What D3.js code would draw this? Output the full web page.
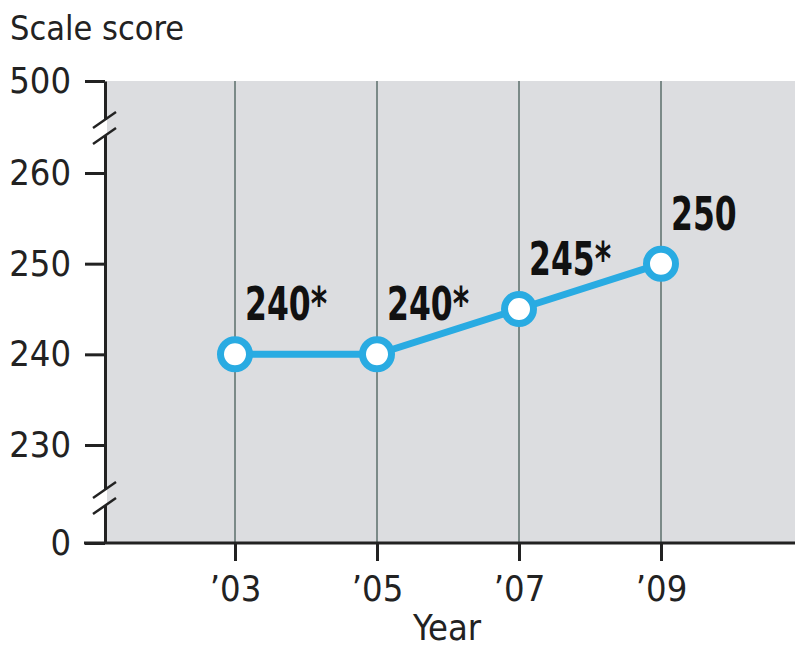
<!DOCTYPE html>
<html>
<head>
<meta charset="utf-8">
<script src="https://cdn.jsdelivr.net/npm/d3@7"></script>
<style>
  body { margin: 0; background: #fff; }
  text { font-family: "Liberation Sans Narrow", "DejaVu Sans Condensed", sans-serif; }
</style>
</head>
<body>
<div id="chart"></div>
<script>
var years = [2003, 2005, 2007, 2009];
var yearLabels = ["\u201903", "\u201905", "\u201907", "\u201909"];
var scores = [240, 240, 245, 250];
var scoreLabels = ["240*", "240*", "245*", "250"];
var yTicks = [0, 230, 240, 250, 260, 500];

var width = 795, height = 649;
var plotLeft = 105, plotRight = 795, plotTop = 81, plotBottom = 543;
var blue = "#29abe2";

var svg = d3.select("#chart").append("svg")
    .attr("width", width)
    .attr("height", height);

// broken y scale: 0 .. 230 | 230 .. 260 | 260 .. 500
var y = d3.scaleLinear()
    .domain([0, 230, 260, 500])
    .range([plotBottom, 445, 173, plotTop]);

var x = d3.scaleLinear()
    .domain([2003, 2009])
    .range([235, 661]);

// background
svg.append("rect")
    .attr("x", plotLeft)
    .attr("y", plotTop)
    .attr("width", plotRight - plotLeft)
    .attr("height", plotBottom - plotTop)
    .attr("fill", "#dcdde0");

// vertical grid
svg.selectAll(".grid")
    .data(years)
    .enter()
    .append("line")
    .attr("x1", function(d) { return x(d) })
    .attr("x2", function(d) { return x(d) })
    .attr("y1", plotTop)
    .attr("y2", plotBottom)
    .attr("stroke", "#7b8a88")
    .attr("stroke-width", 2);

// y axis
var yAxis = svg.append("g")
    .attr("transform", "translate(" + plotLeft + ",0)")
    .call(d3.axisLeft(y).tickValues(yTicks).tickSize(20).tickPadding(14).tickSizeOuter(0));
yAxis.select(".domain").attr("stroke", "#222").attr("stroke-width", 3);
yAxis.selectAll(".tick line").attr("stroke", "#222").attr("stroke-width", 3);
yAxis.selectAll(".tick text")
    .attr("font-size", 36)
    .attr("fill", "#222")
    .style("font-family", "'Liberation Sans Narrow', 'DejaVu Sans Condensed', sans-serif");

// axis breaks
var breaks = [128, 498];
breaks.forEach(function(b) {
    svg.append("rect")
        .attr("x", plotLeft - 4)
        .attr("y", b - 8)
        .attr("width", 6)
        .attr("height", 16)
        .attr("fill", "#fff");
    [-8, 8].forEach(function(o) {
        svg.append("line")
            .attr("x1", plotLeft - 12)
            .attr("y1", b + o + 8)
            .attr("x2", plotLeft + 11)
            .attr("y2", b + o - 8)
            .attr("stroke", "#222")
            .attr("stroke-width", 2.5);
    });
});

// x axis
var xAxis = svg.append("g")
    .attr("transform", "translate(0," + plotBottom + ")")
    .call(d3.axisBottom(x).tickValues(years)
        .tickFormat(function(d, i) { return yearLabels[i] })
        .tickSize(18).tickPadding(14).tickSizeOuter(0));
xAxis.select(".domain").remove();
xAxis.append("line")
    .attr("x1", 84).attr("x2", plotRight)
    .attr("y1", 0).attr("y2", 0)
    .attr("stroke", "#222").attr("stroke-width", 3);
xAxis.selectAll(".tick line").attr("stroke", "#222").attr("stroke-width", 3);
xAxis.selectAll(".tick text")
    .attr("font-size", 36)
    .attr("fill", "#222")
    .style("font-family", "'Liberation Sans Narrow', 'DejaVu Sans Condensed', sans-serif");

// titles
svg.append("text")
    .attr("x", 10)
    .attr("y", 40)
    .attr("font-size", 34)
    .attr("fill", "#222")
    .text("Scale score");
svg.append("text")
    .attr("x", 447)
    .attr("y", 640)
    .attr("text-anchor", "middle")
    .attr("font-size", 36)
    .attr("fill", "#222")
    .text("Year");

// line
var pts = years.map(function(d, i) { return {year: d, value: scores[i], label: scoreLabels[i]} });
svg.append("path")
    .datum(pts)
    .attr("fill", "none")
    .attr("stroke", blue)
    .attr("stroke-width", 7)
    .attr("d", d3.line()
        .x(function(d) { return x(d.year) })
        .y(function(d) { return y(d.value) }));

svg.selectAll(".pt")
    .data(pts)
    .enter()
    .append("circle")
    .attr("cx", function(d) { return x(d.year) })
    .attr("cy", function(d) { return y(d.value) })
    .attr("r", 14.5)
    .attr("fill", "#fff")
    .attr("stroke", blue)
    .attr("stroke-width", 7);

// value labels, squeezed horizontally to look like a condensed face
svg.selectAll(".lbl")
    .data(pts)
    .enter()
    .append("text")
    .attr("transform", function(d) {
        return "translate(" + (x(d.year) + 10) + "," + (y(d.value) - 34) + ") scale(0.76,1)";
    })
    .attr("font-size", 46)
    .attr("font-weight", "bold")
    .attr("fill", "#111")
    .text(function(d) { return d.label });
</script>
</body>
</html>
